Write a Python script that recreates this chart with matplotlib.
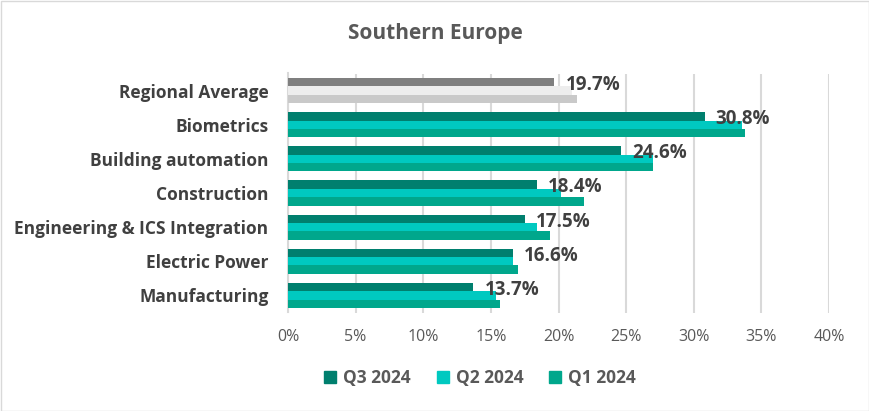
import matplotlib
matplotlib.use('Agg')
from matplotlib import pyplot as plt
from matplotlib.patches import Patch
import numpy as np

plt.rcParams['font.family'] = ['Open Sans', 'DejaVu Sans']

categories = ['Regional Average', 'Biometrics', 'Building automation', 'Construction',
              'Engineering & ICS Integration', 'Electric Power', 'Manufacturing']
q3_2024 = [19.7, 30.8, 24.6, 18.4, 17.5, 16.6, 13.7]
q2_2024 = [21.0, 33.6, 27.0, 20.2, 18.4, 16.6, 15.4]
q1_2024 = [21.4, 33.8, 27.0, 21.9, 19.4, 17.0, 15.7]
series_names = ['Q3 2024', 'Q2 2024', 'Q1 2024']
x_ticks = [0, 5, 10, 15, 20, 25, 30, 35, 40]

# colours: first row is the regional average (greys), others are teal
teal = ['#007F6E', '#00C9C0', '#00A78C']
grey = ['#7F7F7F', '#EDEDED', '#C9C9C9']

fig = plt.figure(figsize=(8.7, 4.11), dpi=100)
ax = fig.add_axes([288 / 870, 1 - 312.5 / 411, (829 - 288) / 870, (312.5 - 73.5) / 411])

y = np.arange(len(categories))
h = 0.245
series = [q3_2024, q2_2024, q1_2024]
offsets = [-h, 0, h]
for i, (vals, off) in enumerate(zip(series, offsets)):
    colors = [grey[i]] + [teal[i]] * (len(categories) - 1)
    ax.barh(y + off, vals, height=h, color=colors, zorder=3)

for yi, v in zip(y, q3_2024):
    ax.annotate('%.1f%%' % v, (v, yi - h + 0.08), xytext=(8, 0), textcoords='offset points',
                va='center', ha='left', fontsize=13.5, fontweight='bold', color='#404040', zorder=4)

ax.set_ylim(len(categories) - 0.5, -0.5)
ax.set_xlim(0, 40)
ax.set_yticks(y)
ax.set_yticklabels(categories, fontsize=12.5, fontweight='bold', color='#404040')
ax.set_xticks(x_ticks)
ax.set_xticklabels(['%d%%' % t for t in x_ticks], fontsize=11.5, color='#595959')
ax.tick_params(length=0)
ax.tick_params(axis='x', pad=12)
ax.tick_params(axis='y', pad=14)
ax.grid(axis='x', color='#D9D9D9', linewidth=1.5, zorder=0)
for s in ['top', 'right', 'bottom']:
    ax.spines[s].set_visible(False)
ax.spines['left'].set_color('#D9D9D9')
ax.spines['left'].set_linewidth(1.5)

fig.text(435 / 870, 1 - 34 / 411, 'Southern Europe', ha='center', va='center',
         fontsize=15, color='#595959', fontweight='bold')

handles = [Patch(color=c) for c in teal]
fig.legend(handles, series_names, loc='center', bbox_to_anchor=(480 / 870, 1 - 378 / 411),
           ncol=3, frameon=False, handlelength=0.7, handleheight=0.7, columnspacing=1.5,
           handletextpad=0.4, prop={'size': 12.5, 'weight': 'bold'}, labelcolor='#595959')

fig.patches.append(plt.Rectangle((0.001, 0.001), 0.998, 0.997, transform=fig.transFigure,
                                 fill=False, edgecolor='#D9D9D9', linewidth=1))

fig.savefig('out.png', dpi=100)
